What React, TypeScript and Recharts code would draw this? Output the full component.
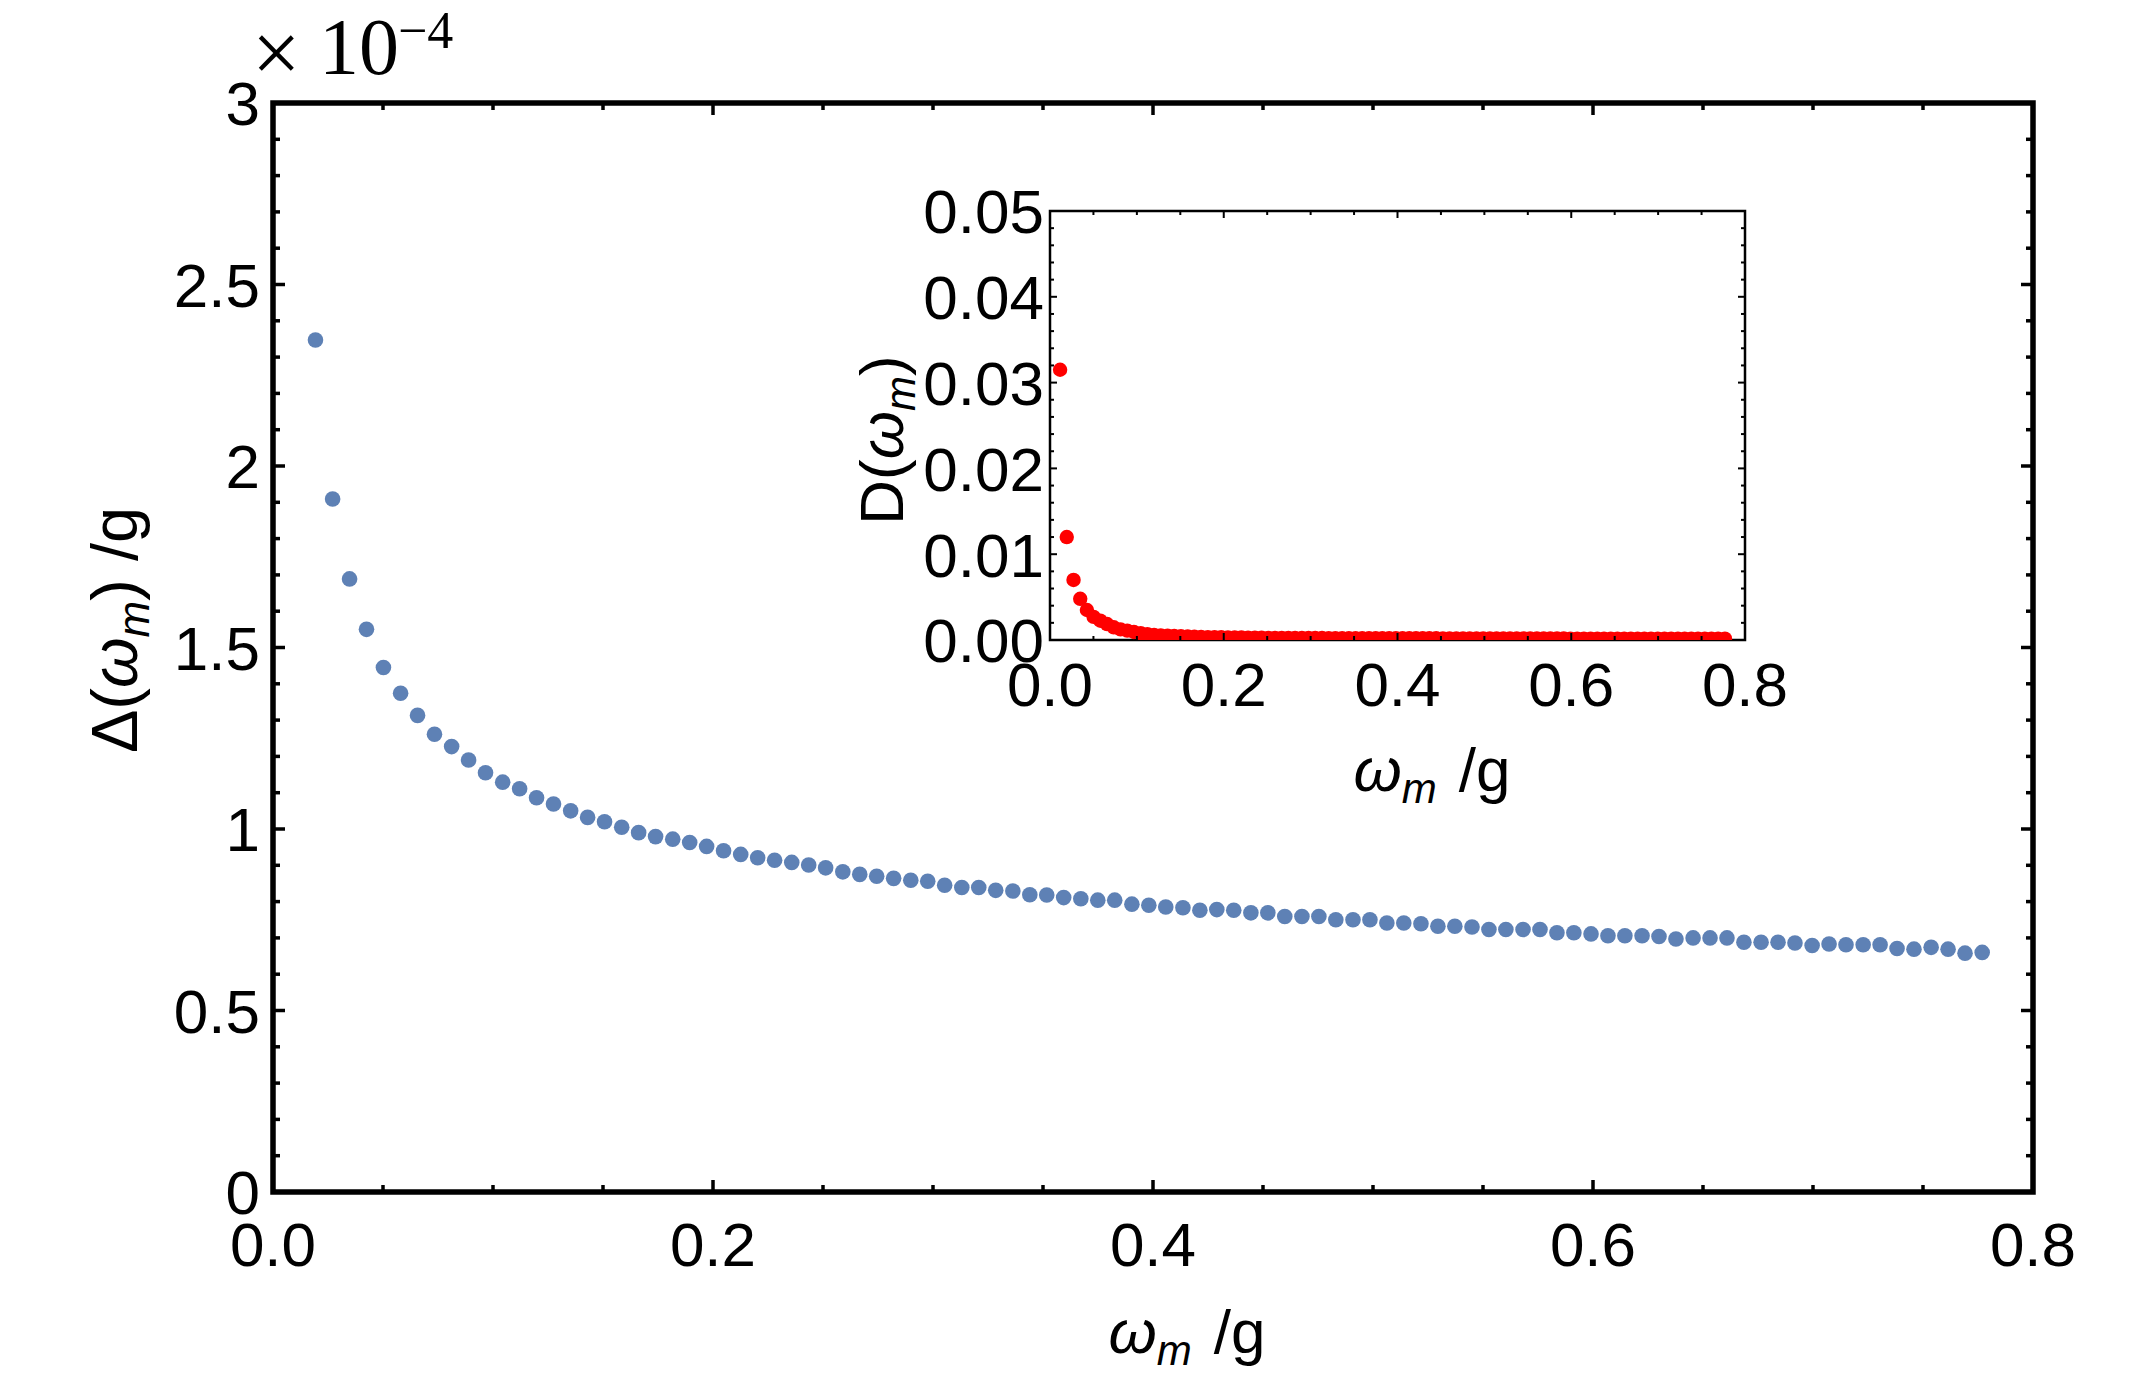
import { ScatterChart, Scatter, XAxis, YAxis, ReferenceArea } from 'recharts'

const W = 2134
const H = 1392
const SANS = '"Liberation Sans", Arial, sans-serif'
const SERIF = '"Liberation Serif", "Times New Roman", serif'

// plot boxes in page pixels
const MAIN = { left: 273, top: 103, right: 2033, bottom: 1192 }
const INSET = { left: 1050, top: 211, right: 1745, bottom: 640 }

// Matsubara frequencies omega_m / g, m = 1 ... 100
const omega = [
  0.0116, 0.0193, 0.0271, 0.0348, 0.0425, 0.0502, 0.0580, 0.0657, 0.0734, 0.0812,
  0.0889, 0.0966, 0.1044, 0.1121, 0.1198, 0.1275, 0.1353, 0.1430, 0.1507, 0.1585,
  0.1662, 0.1739, 0.1817, 0.1894, 0.1971, 0.2048, 0.2126, 0.2203, 0.2280, 0.2358,
  0.2435, 0.2512, 0.2590, 0.2667, 0.2744, 0.2821, 0.2899, 0.2976, 0.3053, 0.3131,
  0.3208, 0.3285, 0.3363, 0.3440, 0.3517, 0.3594, 0.3672, 0.3749, 0.3826, 0.3904,
  0.3981, 0.4058, 0.4136, 0.4213, 0.4290, 0.4367, 0.4445, 0.4522, 0.4599, 0.4677,
  0.4754, 0.4831, 0.4909, 0.4986, 0.5063, 0.5140, 0.5218, 0.5295, 0.5372, 0.5450,
  0.5527, 0.5604, 0.5682, 0.5759, 0.5836, 0.5913, 0.5991, 0.6068, 0.6145, 0.6223,
  0.6300, 0.6377, 0.6455, 0.6532, 0.6609, 0.6686, 0.6764, 0.6841, 0.6918, 0.6996,
  0.7073, 0.7150, 0.7228, 0.7305, 0.7382, 0.7459, 0.7537, 0.7614, 0.7691, 0.7769,
]

// Delta(omega_m)/g in units of 1e-4, m = 2 ... 100 (m = 1 lies above the range)
const gapValues = [
  2.347, 1.909, 1.689, 1.550, 1.445, 1.374, 1.313, 1.261, 1.227, 1.190,
  1.155, 1.129, 1.111, 1.086, 1.069, 1.050, 1.032, 1.020, 1.005, 0.990,
  0.979, 0.972, 0.963, 0.952, 0.940, 0.930, 0.921, 0.914, 0.908, 0.901,
  0.893, 0.882, 0.875, 0.870, 0.864,
  0.859, 0.856, 0.845, 0.839, 0.839, 0.831, 0.829, 0.819, 0.818, 0.811,
  0.808, 0.804, 0.804, 0.793, 0.790, 0.785, 0.783, 0.776, 0.778, 0.776,
  0.769, 0.769, 0.759, 0.759, 0.759, 0.750, 0.750, 0.750, 0.741, 0.741,
  0.739, 0.732, 0.732, 0.730, 0.723, 0.723, 0.723, 0.723, 0.714, 0.714,
  0.711, 0.706, 0.706, 0.706, 0.704, 0.697, 0.700, 0.700, 0.700, 0.688,
  0.688, 0.688, 0.686, 0.679, 0.683, 0.681, 0.681, 0.681, 0.671, 0.669,
  0.674, 0.669, 0.658, 0.660,
]

// D(omega_m), m = 1 ... 100
const dValues = [
  0.0315, 0.0120, 0.0070, 0.0048, 0.0035, 0.0027, 0.00225, 0.00186, 0.00148, 0.00124,
  0.00109, 0.00093, 0.00080, 0.00068, 0.00060, 0.00054, 0.00050, 0.00047, 0.00043, 0.00040,
  0.00038, 0.00036, 0.00034, 0.00033, 0.00032, 0.00031, 0.00030, 0.00029, 0.00028, 0.00027,
  0.00026, 0.00025, 0.00025, 0.00024, 0.00024, 0.00023, 0.00023, 0.00023, 0.00023, 0.00023,
  0.00021, 0.00021, 0.00020, 0.00020, 0.00020, 0.00020, 0.00020, 0.00020, 0.00020, 0.00020,
  0.00020, 0.00020, 0.00020, 0.00020, 0.00020, 0.00020, 0.00020, 0.00019, 0.00019, 0.00019,
  0.00019, 0.00019, 0.00019, 0.00019, 0.00019, 0.00019, 0.00019, 0.00019, 0.00019, 0.00019,
  0.00019, 0.00019, 0.00019, 0.00019, 0.00019, 0.00019, 0.00016, 0.00016, 0.00016, 0.00016,
  0.00016, 0.00016, 0.00016, 0.00016, 0.00016, 0.00016, 0.00016, 0.00016, 0.00016, 0.00016,
  0.00016, 0.00016, 0.00016, 0.00016, 0.00016, 0.00016, 0.00016, 0.00016, 0.00016, 0.00016,
]

const xMajor = [0, 0.2, 0.4, 0.6, 0.8]
const xMinor = [0.05, 0.1, 0.15, 0.25, 0.3, 0.35, 0.45, 0.5, 0.55, 0.65, 0.7, 0.75]
const gapMajor = [0, 0.5, 1, 1.5, 2, 2.5, 3]
const gapMinor = [
  0.1, 0.2, 0.3, 0.4, 0.6, 0.7, 0.8, 0.9, 1.1, 1.2, 1.3, 1.4,
  1.6, 1.7, 1.8, 1.9, 2.1, 2.2, 2.3, 2.4, 2.6, 2.7, 2.8, 2.9,
]
const dMajor = [0, 0.01, 0.02, 0.03, 0.04, 0.05]
const dMinor = [
  0.002, 0.004, 0.006, 0.008, 0.012, 0.014, 0.016, 0.018, 0.022, 0.024, 0.026, 0.028,
  0.032, 0.034, 0.036, 0.038, 0.042, 0.044, 0.046, 0.048,
]

const mainData = gapValues.map((v, i) => ({ w: omega[i + 1], v }))
const insetData = dValues.map((v, i) => ({ w: omega[i], v }))

const allTicks = (a: number[], b: number[]) => [...a, ...b].sort((p, q) => p - q)

type TickCfg = {
  majors: number[]
  fmt: (v: number) => string
  span: number
  big: number
  small: number
  sw: number
  font: number
  off: number
}

const isIn = (list: number[], v: number) => list.some((m) => Math.abs(m - v) < 1e-9)

// frame ticks point inwards and are mirrored on the opposite side
const bottomTick = (c: TickCfg) => (p: any) => {
  const v = p.payload.value
  const major = isIn(c.majors, v)
  const len = major ? c.big : c.small
  return (
    <g>
      <line x1={p.x} x2={p.x} y1={p.y} y2={p.y - len} stroke="#000" strokeWidth={c.sw} />
      <line x1={p.x} x2={p.x} y1={p.y - c.span} y2={p.y - c.span + len} stroke="#000" strokeWidth={c.sw} />
      {major && (
        <text x={p.x} y={p.y + c.off} textAnchor="middle" fontSize={c.font} fontFamily={SANS} fill="#000">
          {c.fmt(v)}
        </text>
      )}
    </g>
  )
}

const leftTick = (c: TickCfg) => (p: any) => {
  const v = p.payload.value
  const major = isIn(c.majors, v)
  const len = major ? c.big : c.small
  return (
    <g>
      <line x1={p.x} x2={p.x + len} y1={p.y} y2={p.y} stroke="#000" strokeWidth={c.sw} />
      <line x1={p.x + c.span} x2={p.x + c.span - len} y1={p.y} y2={p.y} stroke="#000" strokeWidth={c.sw} />
      {major && (
        <text x={p.x - c.off} y={p.y} dy="0.36em" textAnchor="end" fontSize={c.font} fontFamily={SANS} fill="#000">
          {c.fmt(v)}
        </text>
      )}
    </g>
  )
}

const mainXTick = bottomTick({
  majors: xMajor, fmt: (v) => v.toFixed(1), span: MAIN.bottom - MAIN.top,
  big: 12, small: 7, sw: 3.5, font: 62, off: 74,
})
const mainYTick = leftTick({
  majors: gapMajor, fmt: (v) => String(v), span: MAIN.right - MAIN.left,
  big: 12, small: 7, sw: 3.5, font: 62, off: 13,
})
const insetXTick = bottomTick({
  majors: xMajor, fmt: (v) => v.toFixed(1), span: INSET.bottom - INSET.top,
  big: 7, small: 4, sw: 2, font: 62, off: 66,
})
const insetYTick = leftTick({
  majors: dMajor, fmt: (v) => v.toFixed(2), span: INSET.right - INSET.left,
  big: 7, small: 4, sw: 2, font: 62, off: 6,
})

const blueDot = (p: any) => <circle cx={p.cx} cy={p.cy} r={7.8} fill="#5E81B5" />
const redDot = (p: any) => <circle cx={p.cx} cy={p.cy} r={7.2} fill="#FF0000" />

const AXIS_W = 60
const AXIS_H = 60

function MainPlot() {
  return (
    <ScatterChart
      width={W}
      height={H}
      margin={{ top: MAIN.top, right: W - MAIN.right, bottom: H - MAIN.bottom - AXIS_H, left: MAIN.left - AXIS_W }}
    >
      <XAxis
        type="number" dataKey="w" domain={[0, 0.8]} ticks={allTicks(xMajor, xMinor)} interval={0}
        height={AXIS_H} axisLine={false} tickLine={false} tickSize={0} tickMargin={0} tick={mainXTick}
      />
      <YAxis
        type="number" dataKey="v" domain={[0, 3]} ticks={allTicks(gapMajor, gapMinor)} interval={0}
        width={AXIS_W} axisLine={false} tickLine={false} tickSize={0} tickMargin={0} tick={mainYTick}
      />
      <ReferenceArea x1={0} x2={0.8} y1={0} y2={3} fill="none" stroke="#000" strokeWidth={5.5} />
      <Scatter data={mainData} isAnimationActive={false} shape={blueDot} />
    </ScatterChart>
  )
}

function InsetPlot() {
  return (
    <ScatterChart
      width={W}
      height={H}
      margin={{ top: INSET.top, right: W - INSET.right, bottom: H - INSET.bottom - AXIS_H, left: INSET.left - AXIS_W }}
    >
      <XAxis
        type="number" dataKey="w" domain={[0, 0.8]} ticks={allTicks(xMajor, xMinor)} interval={0}
        height={AXIS_H} axisLine={false} tickLine={false} tickSize={0} tickMargin={0} tick={insetXTick}
      />
      <YAxis
        type="number" dataKey="v" domain={[0, 0.05]} allowDataOverflow ticks={allTicks(dMajor, dMinor)} interval={0}
        width={AXIS_W} axisLine={false} tickLine={false} tickSize={0} tickMargin={0} tick={insetYTick}
      />
      <Scatter data={insetData} isAnimationActive={false} shape={redDot} />
      <ReferenceArea x1={0} x2={0.8} y1={0} y2={0.05} fill="none" stroke="#000" strokeWidth={2.5} />
    </ScatterChart>
  )
}

// omega with an italic subscript m, used by every axis title
function OmegaM({ size }: { size: number }) {
  const sub = Math.round(size * 0.68)
  return (
    <>
      <tspan fontStyle="italic">ω</tspan>
      <tspan fontStyle="italic" fontSize={sub} dy={12}>m</tspan>
    </>
  )
}

function Titles() {
  const font = 62
  return (
    <svg width={W} height={H} style={{ position: 'absolute', left: 0, top: 0, pointerEvents: 'none' }}>
      <g fontFamily={SANS} fontSize={font} fill="#000">
        <text x={1187} y={1353} textAnchor="middle">
          <OmegaM size={font} />
          <tspan dx={22} dy={-12}>/g</tspan>
        </text>
        <text transform="translate(137,630) rotate(-90)" textAnchor="middle" fontSize={65}>
          Δ(<OmegaM size={65} />
          <tspan dy={-12}>)</tspan>
          <tspan dx={18}>/g</tspan>
        </text>
        <text x={1432} y={791} textAnchor="middle">
          <OmegaM size={font} />
          <tspan dx={22} dy={-12}>/g</tspan>
        </text>
        <text transform="translate(903,440) rotate(-90)" textAnchor="middle">
          D(<OmegaM size={font} />
          <tspan dy={-12}>)</tspan>
        </text>
      </g>
      {/* axis multiplier for the main y scale */}
      <g fontFamily={SERIF} fill="#000">
        <text x={252} y={82} fontSize={86}>×</text>
        <text x={319} y={74} fontSize={80}>10</text>
        <text x={398} y={48} fontSize={52}>−4</text>
      </g>
    </svg>
  )
}

export default function App() {
  return (
    <div style={{ position: 'relative', width: W, height: H, background: '#fff' }}>
      <style>{'body{margin:0}'}</style>
      <div style={{ position: 'absolute', left: 0, top: 0 }}>
        <MainPlot />
      </div>
      <div style={{ position: 'absolute', left: 0, top: 0 }}>
        <InsetPlot />
      </div>
      <Titles />
    </div>
  )
}
